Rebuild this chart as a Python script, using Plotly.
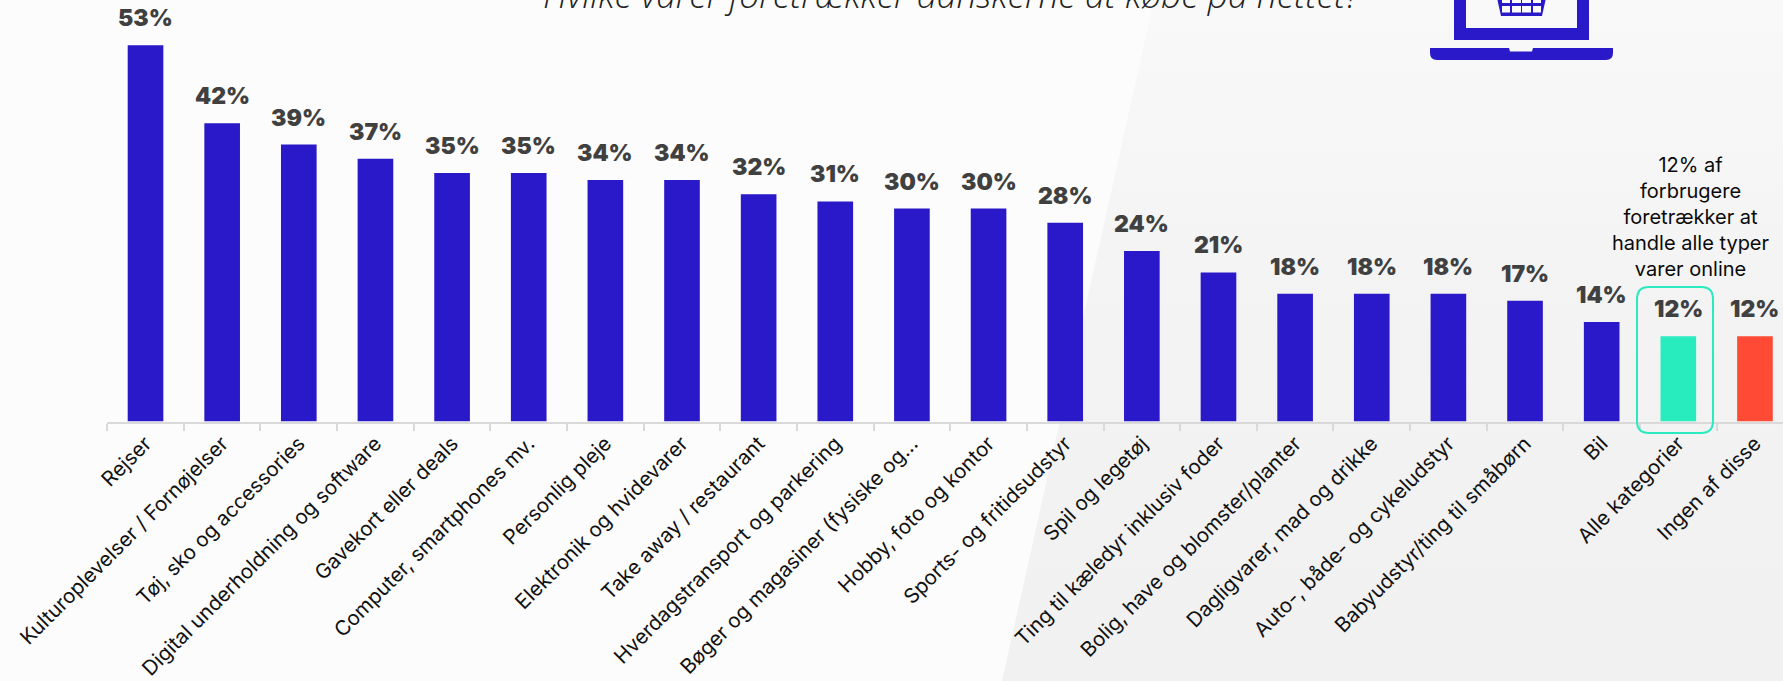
import base64
import plotly.graph_objects as go

W, H = 1783, 681

categories = [
    "Rejser", "Kulturoplevelser / Fornøjelser", "Tøj, sko og accessories",
    "Digital underholdning og software", "Gavekort eller deals",
    "Computer, smartphones mv.", "Personlig pleje", "Elektronik og hvidevarer",
    "Take away / restaurant", "Hverdagstransport og parkering",
    "Bøger og magasiner (fysiske og...", "Hobby, foto og kontor",
    "Sports- og fritidsudstyr", "Spil og legetøj",
    "Ting til kæledyr inklusiv foder", "Bolig, have og blomster/planter",
    "Dagligvarer, mad og drikke", "Auto-, både- og cykeludstyr",
    "Babyudstyr/ting til småbørn", "Bil", "Alle kategorier", "Ingen af disse",
]
values = [53, 42, 39, 37, 35, 35, 34, 34, 32, 31, 30, 30, 28, 24, 21, 18, 18, 18, 17, 14, 12, 12]

BLUE, GREEN, RED = "#2a19c8", "#28ebbe", "#ff4b36"
bar_colors = [BLUE] * 20 + [GREEN, RED]

LABEL_FONT = "Inter"
TITLE = "Hvilke varer foretrækker danskerne at købe på nettet?"
CALLOUT = "12% af<br>forbrugere<br>foretrækker at<br>handle alle typer<br>varer online"


def px(x):
    return x / W


def py(y):
    return 1 - y / H


def path(points):
    return "M" + " L".join(f"{px(x):.5f},{py(y):.5f}" for x, y in points) + " Z"


# Pale slanted panel behind the right part of the page
backdrop = f"""<svg xmlns='http://www.w3.org/2000/svg' width='{W}' height='{H}'>
<defs><linearGradient id='g' x1='0' y1='0' x2='0' y2='1'>
<stop offset='0' stop-color='#f9f9f9'/><stop offset='0.45' stop-color='#f3f3f3'/>
<stop offset='1' stop-color='#f1f1f1'/></linearGradient></defs>
<rect width='{W}' height='{H}' fill='#fcfcfc'/>
<polygon points='1154,0 {W},0 {W},{H} 1002,{H}' fill='url(#g)'/></svg>"""
backdrop_uri = "data:image/svg+xml;base64," + base64.b64encode(backdrop.encode()).decode()

fig = go.Figure(
    go.Bar(x=categories, y=values, marker=dict(color=bar_colors, line_width=0), width=0.465,
           hoverinfo="skip")
)

# Value labels sit a fixed distance above each bar
annotations = [
    dict(x=c, y=v, xref="x", yref="y", text=f"{v}%", showarrow=False, yanchor="bottom", yshift=11,
         font=dict(family=LABEL_FONT, size=23, color="#404040", weight=900))
    for c, v in zip(categories, values)
]
annotations.append(
    dict(x=0.5, y=py(-6), xref="paper", yref="paper", xanchor="center", yanchor="middle",
         xshift=60, text=TITLE, showarrow=False,
         font=dict(family="Open Sans", size=35.3, color="#222222", style="italic", weight=300))
)
annotations.append(
    dict(x=px(1691), y=py(283), xref="paper", yref="paper", xanchor="center", yanchor="bottom",
         text=CALLOUT, showarrow=False, align="center",
         font=dict(family=LABEL_FONT, size=20, color="#0a0a0a"))
)

shapes = [
    # Rounded outline around the "Alle kategorier" bar
    dict(type="path", xref="paper", yref="paper", line=dict(color=GREEN, width=2),
         fillcolor="rgba(0,0,0,0)",
         path=(f"M{px(1649)},{py(287)} L{px(1701)},{py(287)} Q{px(1713)},{py(287)} {px(1713)},{py(299)} "
               f"L{px(1713)},{py(421)} Q{px(1713)},{py(433)} {px(1701)},{py(433)} "
               f"L{px(1649)},{py(433)} Q{px(1637)},{py(433)} {px(1637)},{py(421)} "
               f"L{px(1637)},{py(299)} Q{px(1637)},{py(287)} {px(1649)},{py(287)} Z")),
    # Laptop screen frame
    dict(type="path", xref="paper", yref="paper", line_width=0, fillcolor=BLUE,
         path=path([(1454, -2), (1466, -2), (1466, 28), (1577, 28), (1577, -2), (1589, -2), (1589, 40), (1454, 40)])),
    # Laptop base with its notch and rounded lower corners
    dict(type="path", xref="paper", yref="paper", line_width=0, fillcolor=BLUE,
         path=(f"M{px(1430)},{py(48)} L{px(1509)},{py(48)} L{px(1510)},{py(51.5)} L{px(1532)},{py(51.5)} "
               f"L{px(1533)},{py(48)} L{px(1613)},{py(48)} L{px(1613)},{py(53)} "
               f"Q{px(1613)},{py(60)} {px(1606)},{py(60)} L{px(1437)},{py(60)} "
               f"Q{px(1430)},{py(60)} {px(1430)},{py(53)} Z")),
    # Shopping basket on the screen
    dict(type="path", xref="paper", yref="paper", line_width=0, fillcolor=BLUE,
         path=path([(1497, -2), (1546, -2), (1542, 16), (1501, 16)])),
]
for x0, x1 in [(1502, 1510), (1512, 1521), (1522, 1531), (1533, 1541)]:
    for y0, y1 in [(-2, 3), (6, 12.5)]:
        shapes.append(dict(type="rect", xref="paper", yref="paper", line_width=0, fillcolor="#fbfbfb",
                           x0=px(x0), x1=px(x1), y0=py(y0), y1=py(y1)))

PX_PER_UNIT = 7.1
BASELINE = 421.5
SLOT = 76.64
LEFT = 107.2

fig.update_layout(
    width=W, height=H, autosize=False, showlegend=False,
    margin=dict(l=0, r=0, t=0, b=0, pad=0),
    paper_bgcolor="#fcfcfc", plot_bgcolor="rgba(0,0,0,0)",
    annotations=annotations, shapes=shapes,
    images=[dict(source=backdrop_uri, xref="paper", yref="paper", x=0, y=1, sizex=1, sizey=1,
                 sizing="stretch", layer="below", xanchor="left", yanchor="top")],
    xaxis=dict(
        domain=[LEFT / W, 1], range=[-0.5, (W - LEFT) / SLOT - 0.5], type="category",
        categoryorder="array", categoryarray=categories, tickangle=-45, tickson="boundaries",
        ticks="outside", ticklen=7, tickwidth=2, tickcolor="#d9d9d9",
        showline=True, linecolor="#d9d9d9", linewidth=2, showgrid=False,
        tickfont=dict(family=LABEL_FONT, size=20.5, color="#111111"), automargin=False,
    ),
    yaxis=dict(
        domain=[1 - BASELINE / H, 1], range=[0, BASELINE / PX_PER_UNIT], visible=False,
        automargin=False,
    ),
)

fig.write_html("out.html", config=dict(displayModeBar=False))
